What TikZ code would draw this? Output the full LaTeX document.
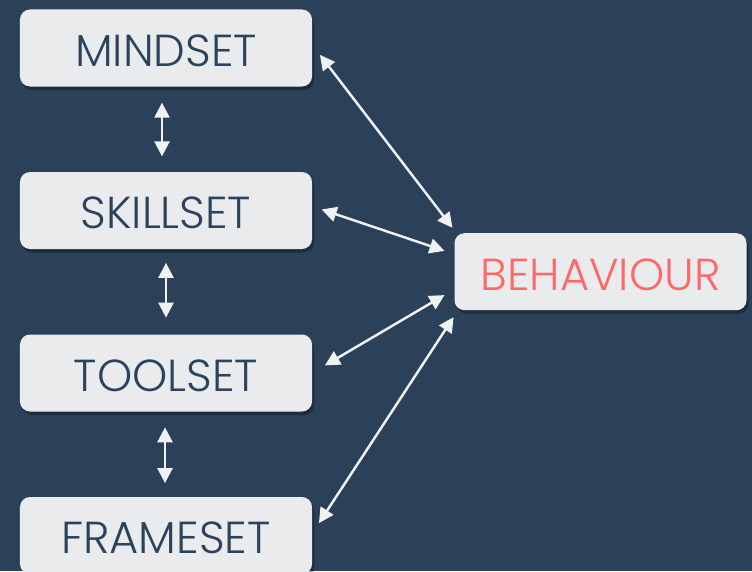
\documentclass[tikz,border=0pt]{standalone}
\usepackage{fontspec}
\setmainfont{Poppins}[UprightFont=* Light]
\usetikzlibrary{arrows.meta,shadows}

\definecolor{bgblue}{RGB}{43,64,89}
\definecolor{boxgray}{RGB}{233,235,237}
\definecolor{textblue}{RGB}{44,67,94}
\definecolor{behred}{RGB}{255,104,104}
\definecolor{arrowwhite}{RGB}{240,241,242}

\begin{document}
\begin{tikzpicture}[x=0.2mm,y=-0.2mm]
      \newcommand{\boxx}[0]{166}
      \newcommand{\ydist}[0]{162.5}

      \tikzstyle{box}=[
        fill=boxgray,
        rounded corners=2mm,
        minimum width=58.4mm,
        minimum height=15.4mm,
        outer sep=0pt,
        anchor=center,
        text=textblue,
        text height=21pt,
        text depth=0pt,
        font=\fontsize{25.5}{30}\selectfont,
        drop shadow={shadow xshift=0.4mm, shadow yshift=-0.7mm, opacity=0.3, fill=black}
      ]
      \tikzstyle{arrow} = [line width=1.4pt, {Triangle[length=8.5pt,width=8.5pt]}-{Triangle[length=8.5pt,width=8.5pt]}, draw=arrowwhite]

      \fill[bgblue] (0,0) rectangle (752,571);
      \useasboundingbox (0,0) rectangle (752,571);

      \node[box]              (mind)  at (\boxx, 48) {MINDSET};
      \node[box]              (skill) at (\boxx, 48+\ydist) {SKILLSET};
      \node[box]              (tool)  at (\boxx, 48+2*\ydist) {TOOLSET};
      \node[box]              (frame) at (\boxx, 48+3*\ydist) {FRAMESET};
      \node[box, text=behred] (beh)   at (600.5, 271.7) {BEHAVIOUR};

      \draw[arrow, shorten <=9.2pt, shorten >=8.9pt] ([xshift=-0.8mm]mind.south) -- ([xshift=-0.8mm]skill.north);
      \draw[arrow, shorten <=7.9pt, shorten >=9.6pt] (skill.south) -- (tool.north);
      \draw[arrow, shorten <=9pt, shorten >=7.9pt] ([xshift=-0.2mm]tool.south) -- ([xshift=-0.2mm]frame.north);

      \draw[arrow, shorten <=7.4pt, shorten >=1.9pt] ([yshift=0.7mm]mind.east) -- ([yshift=0.55mm]beh.north west);
      \draw[arrow, shorten <=5.8pt, shorten >=6pt] ([yshift=0.86mm]skill.east) -- ([yshift=3.5mm]beh.west);
      \draw[arrow, shorten <=8.5pt, shorten >=6.6pt] (tool.east) -- ([yshift=-3.5mm]beh.west);
      \draw[arrow, shorten <=7.2pt, shorten >=1pt] ([yshift=0.36mm]frame.east) -- ([yshift=-1.1mm]beh.south west);
    \end{tikzpicture}
\end{document}
